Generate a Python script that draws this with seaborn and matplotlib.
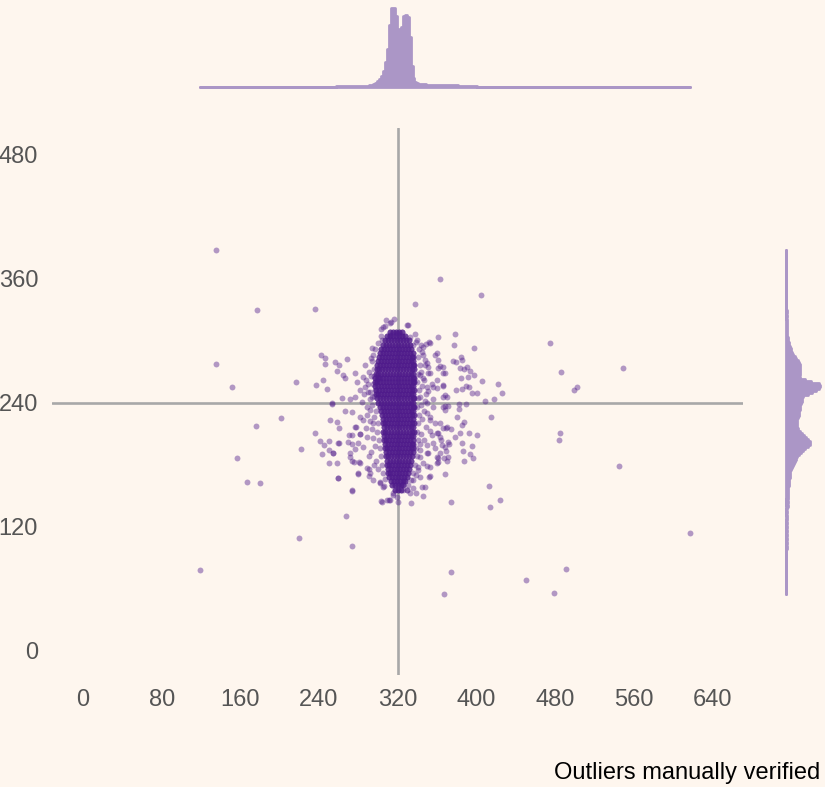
import numpy as np
import pandas as pd
import matplotlib
matplotlib.use("Agg")
import matplotlib.pyplot as plt
import seaborn as sns

# --- 1. COLOURS ---
bg = "#fef6ee"
purple = "#4f1b8b"
hist_color = "#ab96c6"
ref_grey = "#a8a8a8"
tick_grey = "#555555"

# --- 2. DATA ---
# sparse outliers far from the cloud
far_x = [135, 177, 236, 135, 151, 217, 201, 176, 157, 167, 180, 220, 273, 119, 267,
         363, 405, 338, 475, 549, 486, 502, 499, 485, 484, 545, 617, 374, 491, 450,
         367, 479, 413, 424, 414, 374, 333, 274, 222, 236]
far_y = [387, 329, 330, 277, 255, 260, 225, 217, 186, 163, 162, 109, 101, 78, 130,
         359, 344, 335, 298, 273, 270, 255, 252, 211, 204, 179, 114, 76, 79, 69,
         55, 56, 159, 146, 139, 144, 143, 155, 195, 211]

# scattered points on the left of the cloud
left_x = [242, 246, 246, 237, 244, 248, 253, 266, 251, 258, 260, 241, 245, 250, 260,
          243, 254, 250, 250, 259, 271, 276, 281, 270, 278, 282, 273, 277, 280, 291,
          291, 303, 311, 315, 302, 306, 256, 260, 268, 266, 264, 258, 277, 279, 285,
          287, 290, 282, 277, 284, 289, 292, 263, 253, 271, 274, 282, 285, 292, 277,
          282, 274, 269, 280, 285, 289, 294, 295, 259, 254, 258, 271, 274, 282, 280,
          289, 292, 295, 302, 305, 259, 273, 304, 312, 294, 296, 293, 295, 292, 296,
          294, 298, 296, 300, 299, 301, 302, 303, 304, 305, 307, 297, 300, 303,
          288, 291, 287, 293, 290, 286, 289, 292, 288, 295, 297, 293, 298, 300, 296,
          291, 294, 297, 299, 296]
left_y = [286, 283, 277, 257, 262, 253, 239, 232, 223, 221, 215, 203, 199, 203, 201,
          190, 191, 194, 182, 167, 187, 183, 183, 209, 216, 210, 200, 195, 171, 176,
          169, 145, 146, 151, 163, 159, 279, 276, 282, 264, 267, 271, 269, 260, 265,
          255, 250, 252, 245, 241, 236, 243, 244, 240, 243, 231, 226, 223, 233, 216,
          210, 209, 202, 201, 197, 207, 214, 220, 201, 191, 182, 191, 184, 182, 172,
          177, 172, 165, 162, 158, 167, 156, 144, 146, 280, 272, 266, 258, 250, 246,
          238, 232, 226, 220, 212, 204, 196, 188, 180, 172, 166, 292, 298, 304,
          262, 270, 276, 283, 258, 248, 228, 222, 215, 206, 198, 192, 184, 176, 180,
          188, 245, 252, 262, 266]

# scattered points on the right of the cloud
right_x = [378, 377, 361, 398, 406, 426, 422, 418, 409, 415, 401, 395, 397, 387, 368,
           353, 348, 346, 352, 349, 376, 379, 384, 385, 383, 387, 393, 390, 398, 391,
           384, 361, 366, 366, 355, 360, 366, 379, 385, 389, 392, 395, 401, 382, 389,
           382, 366, 368, 371, 380, 387, 385, 392, 383, 366, 369, 374, 360, 364, 372,
           378, 385, 386, 393, 369, 371, 367, 361, 361, 350, 341, 335, 329, 335, 358,
           361, 351, 351, 343, 356, 351, 343, 348, 366, 368, 356, 350, 353, 358, 361,
           355, 350, 343, 343, 351, 358, 365, 371, 353, 360, 350, 363, 368, 353, 360,
           366, 350, 370, 356, 368, 353, 363, 370, 353, 363, 356, 368, 350, 360, 353,
           329, 339, 345, 352, 360, 363, 370, 340, 342, 341, 343, 341, 340, 342, 341,
           340, 342, 341, 340, 341, 339, 340, 338, 336, 333, 330, 336, 338,
           344, 346, 348, 344, 347, 345, 349, 344, 347, 345, 349, 344, 347, 343, 346,
           341, 339, 343, 346, 350]
right_y = [306, 296, 303, 293, 261, 249, 258, 243, 242, 226, 209, 198, 186, 184, 171,
           169, 158, 150, 299, 297, 280, 279, 284, 281, 273, 272, 271, 274, 267, 265,
           264, 273, 274, 269, 258, 254, 256, 252, 253, 256, 255, 249, 249, 239, 239,
           234, 236, 247, 237, 226, 221, 218, 211, 211, 215, 215, 214, 211, 204, 200,
           207, 201, 193, 190, 193, 187, 186, 186, 183, 179, 175, 165, 156, 157, 286,
           281, 274, 269, 267, 255, 251, 245, 242, 245, 237, 236, 230, 223, 220, 211,
           209, 199, 194, 187, 191, 196, 199, 202, 298, 288, 278, 275, 269, 269, 262,
           257, 255, 245, 243, 233, 226, 220, 216, 213, 207, 201, 197, 191, 187, 178,
           156, 153, 158, 168, 182, 191, 184, 300, 292, 284, 276, 268, 260, 252, 244,
           236, 228, 220, 212, 204, 196, 188, 180, 172, 165, 160, 296, 306,
           296, 286, 276, 270, 262, 256, 248, 238, 232, 224, 216, 210, 204, 200, 182,
           178, 170, 168, 264, 240]

# points above and below the cloud
cap_x = [308, 313, 316, 330, 303, 307, 305, 312, 329, 319, 332, 312, 339, 346, 304,
         295, 294, 345, 348, 315, 325, 319, 332, 309, 320]
cap_y = [320, 318, 321, 315, 311, 314, 313, 317, 315, 307, 303, 305, 299, 294, 300,
         286, 293, 289, 281, 153, 156, 149, 153, 146, 144]

# dense core: one row per y level, x positions of the overlapping points
core_rows = [
    (308, [312, 315, 318, 321, 324]),
    (304, [309, 312, 315, 318, 321, 324, 327]),
    (300, [307, 310, 313, 316, 319, 322, 325, 328, 331]),
    (296, [305, 308, 311, 314, 317, 320, 323, 326, 329, 332]),
    (292, [303, 306, 309, 312, 315, 318, 321, 324, 327, 330, 333]),
    (288, [302, 305, 308, 311, 314, 317, 320, 323, 326, 329, 332, 335]),
    (284, [301, 304, 307, 310, 313, 316, 319, 322, 325, 328, 331, 334, 336]),
    (280, [300, 303, 306, 309, 312, 315, 318, 321, 324, 327, 330, 333, 336]),
    (276, [299, 302, 305, 308, 311, 314, 317, 320, 323, 326, 329, 332, 335, 337]),
    (272, [299, 301, 304, 307, 310, 313, 316, 319, 322, 325, 328, 331, 334, 337]),
    (268, [298, 300, 303, 306, 309, 312, 315, 318, 321, 324, 327, 330, 333, 336]),
    (264, [297, 300, 302, 305, 308, 311, 314, 317, 320, 323, 326, 329, 332, 335, 337]),
    (260, [297, 299, 302, 305, 308, 311, 314, 317, 320, 323, 326, 329, 332, 335, 337]),
    (256, [297, 300, 303, 306, 309, 312, 315, 318, 321, 324, 327, 330, 333, 336]),
    (252, [298, 301, 304, 307, 310, 313, 316, 319, 322, 325, 328, 331, 334, 337]),
    (248, [298, 300, 303, 306, 309, 312, 315, 318, 321, 324, 327, 330, 333, 336]),
    (244, [299, 302, 305, 308, 311, 314, 317, 320, 323, 326, 329, 332, 335, 337]),
    (240, [300, 303, 306, 309, 312, 315, 318, 321, 324, 327, 330, 333, 336]),
    (236, [302, 305, 308, 311, 314, 317, 320, 323, 326, 329, 332, 335, 337]),
    (232, [303, 306, 309, 312, 315, 318, 321, 324, 327, 330, 333, 336]),
    (228, [304, 307, 310, 313, 316, 319, 322, 325, 328, 331, 334, 337]),
    (224, [305, 308, 311, 314, 317, 320, 323, 326, 329, 332, 335]),
    (220, [305, 307, 310, 313, 316, 319, 322, 325, 328, 331, 334, 337]),
    (216, [306, 309, 312, 315, 318, 321, 324, 327, 330, 333, 336]),
    (212, [305, 307, 310, 313, 316, 319, 322, 325, 328, 331, 334, 337]),
    (208, [306, 309, 312, 315, 318, 321, 324, 327, 330, 333, 336]),
    (204, [306, 308, 311, 314, 317, 320, 323, 326, 329, 332, 335]),
    (200, [307, 310, 313, 316, 319, 322, 325, 328, 331, 334, 336]),
    (196, [307, 309, 312, 315, 318, 321, 324, 327, 330, 333, 335]),
    (192, [308, 311, 314, 317, 320, 323, 326, 329, 332, 335]),
    (188, [308, 310, 313, 316, 319, 322, 325, 328, 331, 334]),
    (184, [309, 312, 315, 318, 321, 324, 327, 330, 333]),
    (180, [309, 311, 314, 317, 320, 323, 326, 329, 332]),
    (176, [310, 313, 316, 319, 322, 325, 328, 331]),
    (172, [310, 312, 315, 318, 321, 324, 327, 330]),
    (168, [311, 314, 317, 320, 323, 326, 329]),
    (164, [313, 316, 319, 322, 325, 327]),
    (160, [314, 317, 320, 323, 325]),
    (156, [317, 320, 323]),
]
core_count = 3  # observations stacked at each core position

# marginal histogram of x (bin value, count)
xm_val = [234, 236, 238, 240, 242, 244, 246, 248, 250, 252, 254, 256, 258, 260, 262,
          264, 266, 268, 270, 272, 274, 276, 278, 280, 282, 284, 286, 288, 290, 292,
          294, 296, 298, 300, 302, 304, 306, 308, 310, 312, 314, 316, 318, 320, 322,
          324, 326, 328, 330, 332, 334, 336, 338, 340, 342, 344, 346, 348, 350, 352,
          354, 356, 358, 360, 362, 364, 366, 368, 370, 372, 374, 376, 378, 380, 382,
          384, 386, 388, 390, 392, 394, 396, 398, 400, 402, 404, 406, 408, 410]
xm_cnt = [2, 2, 2, 2, 2, 2, 2, 2, 2, 2, 2, 2, 3, 3, 3,
          3, 3, 3, 3, 4, 4, 4, 4, 4, 4, 5, 5, 5, 5, 6,
          8, 10, 13, 18, 25, 33, 48, 75, 115, 185, 237, 236, 212, 175, 145,
          180, 214, 216, 210, 150, 65, 28, 16, 12, 10, 10, 10, 10, 8, 8,
          8, 8, 8, 8, 6, 6, 6, 6, 6, 6, 6, 6, 6, 6, 5,
          5, 5, 5, 5, 5, 4, 4, 4, 4, 2, 2, 2, 2, 2]

# marginal histogram of y (bin value, count)
ym_val = [100, 104, 108, 112, 116, 120, 124, 128, 130, 134, 138, 140, 144, 148, 150,
          152, 154, 156, 158, 160, 162, 164, 166, 168, 170, 172, 174, 176, 178, 180,
          182, 184, 186, 188, 190, 192, 194, 196, 198, 200, 202, 204, 206, 208, 210,
          212, 214, 216, 218, 220, 222, 224, 226, 228, 230, 232, 234, 236, 238, 240,
          242, 244, 246, 248, 250, 252, 254, 256, 258, 260, 262, 264, 266, 268, 270,
          272, 274, 276, 278, 280, 282, 284, 286, 288, 290, 292, 294, 296, 298, 300,
          302, 304, 306, 308, 310, 312, 314, 316, 318, 320, 324, 328]
ym_cnt = [3, 3, 3, 3, 3, 4, 4, 4, 6, 6, 6, 8, 8, 8, 10,
          10, 10, 11, 12, 14, 15, 16, 17, 18, 19, 20, 22, 25, 28, 34,
          39, 45, 50, 57, 67, 75, 87, 97, 110, 119, 120, 112, 102, 92, 80,
          72, 62, 55, 54, 55, 56, 57, 60, 63, 65, 66, 68, 70, 72, 75,
          78, 81, 87, 110, 130, 152, 167, 170, 165, 125, 95, 72, 66, 68, 70,
          70, 70, 69, 67, 60, 52, 46, 37, 31, 27, 23, 20, 16, 14, 11,
          10, 7, 6, 5, 5, 4, 4, 4, 4, 3, 3, 3]

x_ticks = [0, 80, 160, 240, 320, 400, 480, 560, 640]
y_ticks = [0, 120, 240, 360, 480]
ref_x, ref_y = 320, 240
caption = "Outliers manually verified"

# --- 3. BUILD THE POINT TABLE ---
core_x = [x for y, xs in core_rows for x in xs for _ in range(core_count)]
core_y = [y for y, xs in core_rows for x in xs for _ in range(core_count)]
df = pd.DataFrame({
    "x": far_x + left_x + right_x + cap_x + core_x,
    "y": far_y + left_y + right_y + cap_y + core_y,
})

# --- 4. FIGURE ---
sns.set_theme(style="white")
plt.rcParams["font.family"] = ["Liberation Sans", "DejaVu Sans"]

W, H = 825, 787
fig = plt.figure(figsize=(W / 100, H / 100), dpi=100, facecolor=bg)

ax = fig.add_axes([52 / W, 1 - 675 / H, 691 / W, 547 / H], facecolor=bg)
ax_top = fig.add_axes([52 / W, 1 - 90 / H, 691 / W, 85 / H], facecolor=bg)
ax_right = fig.add_axes([780 / W, 1 - 675 / H, 45 / W, 547 / H], facecolor=bg)

xlim = (-31.5, 671)
ylim = (-23.2, 505.3)

ax.axvline(ref_x, color=ref_grey, lw=1.9, zorder=1)
ax.axhline(ref_y, color=ref_grey, lw=1.9, zorder=1)
sns.scatterplot(data=df, x="x", y="y", ax=ax, s=18, color=purple, alpha=0.43,
                linewidth=0, zorder=2)

ax.set_xlim(xlim)
ax.set_ylim(ylim)
ax.set_xticks(x_ticks)
ax.set_yticks(y_ticks)
ax.set_xlabel("")
ax.set_ylabel("")
ax.tick_params(length=0, labelsize=17, labelcolor=tick_grey, pad=10)
for s in ax.spines.values():
    s.set_visible(False)

# marginal histograms share the data range of the scatter
x_lo, x_hi = df["x"].min(), df["x"].max()
y_lo, y_hi = df["y"].min(), df["y"].max()

sns.histplot(x=xm_val, weights=xm_cnt, binwidth=2, binrange=(x_lo, x_hi),
             element="step", fill=True, color=hist_color, alpha=1,
             edgecolor=hist_color, linewidth=2, ax=ax_top)
ax_top.set_xlim(xlim)
ax_top.set_ylim(-7.5, 246)
ax_top.axis("off")

sns.histplot(y=ym_val, weights=ym_cnt, binwidth=2, binrange=(y_lo, y_hi),
             element="step", fill=True, color=hist_color, alpha=1,
             edgecolor=hist_color, linewidth=2, ax=ax_right)
ax_right.set_ylim(ylim)
ax_right.set_xlim(-30, 195)
ax_right.axis("off")

fig.text(820 / W, 1 - 773 / H, caption, ha="right", va="center",
         fontsize=17, color="black")

fig.savefig("out.png", dpi=100, facecolor=bg)
